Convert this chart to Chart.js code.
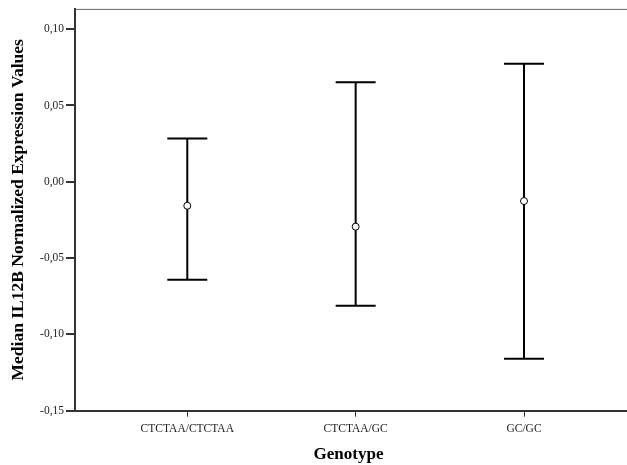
<!DOCTYPE html>
<html>
<head>
<meta charset="utf-8">
<script src="https://cdn.jsdelivr.net/npm/chart.js@4/dist/chart.umd.min.js"></script>
<style>
  html, body { margin: 0; padding: 0; background: #fff; }
  #wrap { width: 627px; height: 465px; }
</style>
</head>
<body>
<div id="wrap"><canvas id="graph"></canvas></div>
<script>
// Genotype groups and their medians with error bar ends
var categories = ['CTCTAA/CTCTAA', 'CTCTAA/GC', 'GC/GC'];
var medians = [-0.0157, -0.0294, -0.0126];
var lowerValues = [-0.0642, -0.0812, -0.1160];
var upperValues = [0.0284, 0.0652, 0.0774];
var yTicks = [-0.15, -0.10, -0.05, 0.00, 0.05, 0.10];

// Draw whiskers and caps using the chart's own scales
var errorBars = {
    id: 'errorBars',
    beforeDatasetsDraw: function (chart) {
        var ctx = chart.ctx;
        var xs = chart.scales.x;
        var ys = chart.scales.y;
        ctx.save();
        ctx.strokeStyle = '#000';
        ctx.lineWidth = 2;
        for (var i = 0; i < categories.length; i++) {
            var x = xs.getPixelForValue(i);
            var top = ys.getPixelForValue(upperValues[i]);
            var bot = ys.getPixelForValue(lowerValues[i]);
            ctx.beginPath();
            ctx.moveTo(x, top);
            ctx.lineTo(x, bot);
            ctx.moveTo(x - 20, top);
            ctx.lineTo(x + 20, top);
            ctx.moveTo(x - 20, bot);
            ctx.lineTo(x + 20, bot);
            ctx.stroke();
        }
        // frame runs off the right edge of the picture
        var a = chart.chartArea;
        ctx.strokeStyle = '#666';
        ctx.lineWidth = 1;
        ctx.beginPath();
        ctx.moveTo(a.left, a.top + 0.5);
        ctx.lineTo(chart.width, a.top + 0.5);
        ctx.stroke();
        var by = Math.round(a.bottom);
        ctx.strokeStyle = '#333';
        ctx.lineWidth = 2;
        ctx.beginPath();
        ctx.moveTo(a.right - 2, by);
        ctx.lineTo(chart.width, by);
        ctx.stroke();
        ctx.restore();
    }
};

function drawGraph() {
    var graphElement = document.getElementById('graph');
    var points = medians.map(function (m, i) { return { x: i, y: m }; });

    new Chart(graphElement, {
        type: 'scatter',
        data: {
            datasets: [{
                data: points,
                pointStyle: 'circle',
                pointRadius: 3.5,
                pointBorderWidth: 1,
                pointBorderColor: '#000',
                pointBackgroundColor: '#fff'
            }]
        },
        options: {
            responsive: true,
            maintainAspectRatio: false,
            animation: false,
            layout: { padding: { top: 8, right: 0, left: 0, bottom: 0 } },
            plugins: {
                legend: { display: false },
                tooltip: { enabled: false }
            },
            scales: {
                x: {
                    type: 'linear',
                    min: -0.667,
                    max: 2.582,
                    afterBuildTicks: function (s) {
                        s.ticks = categories.map(function (c, i) { return { value: i }; });
                    },
                    afterFit: function (s) { s.height = 54.3; },
                    border: { color: '#333', width: 2 },
                    grid: { drawOnChartArea: false, color: '#333', tickLength: 6, lineWidth: 1 },
                    ticks: {
                        color: '#222',
                        padding: 5,
                        maxRotation: 0,
                        font: { family: 'Liberation Serif', size: 11.5 },
                        callback: function (v) { return categories[v]; }
                    },
                    title: {
                        display: true,
                        text: 'Genotype',
                        color: '#000',
                        padding: { top: 11, bottom: 0 },
                        font: { family: 'Liberation Serif', size: 17, weight: 'bold' }
                    }
                },
                y: {
                    min: -0.15,
                    max: 0.1133,
                    afterBuildTicks: function (s) {
                        s.ticks = yTicks.map(function (v) { return { value: v }; });
                    },
                    afterFit: function (s) { s.width = 75; },
                    border: { color: '#333', width: 2 },
                    grid: { drawOnChartArea: false, color: '#333', tickLength: 9, lineWidth: 2 },
                    ticks: {
                        color: '#222',
                        padding: 2,
                        font: { family: 'Liberation Serif', size: 11.5 },
                        callback: function (v) { return v.toFixed(2).replace('.', ','); }
                    },
                    title: {
                        display: true,
                        text: 'Median IL12B Normalized Expression Values',
                        color: '#000',
                        padding: { top: 8, bottom: 0 },
                        font: { family: 'Liberation Serif', size: 17.5, weight: 'bold' }
                    }
                }
            }
        },
        plugins: [errorBars]
    });
}

window.onload = drawGraph;
</script>
</body>
</html>
